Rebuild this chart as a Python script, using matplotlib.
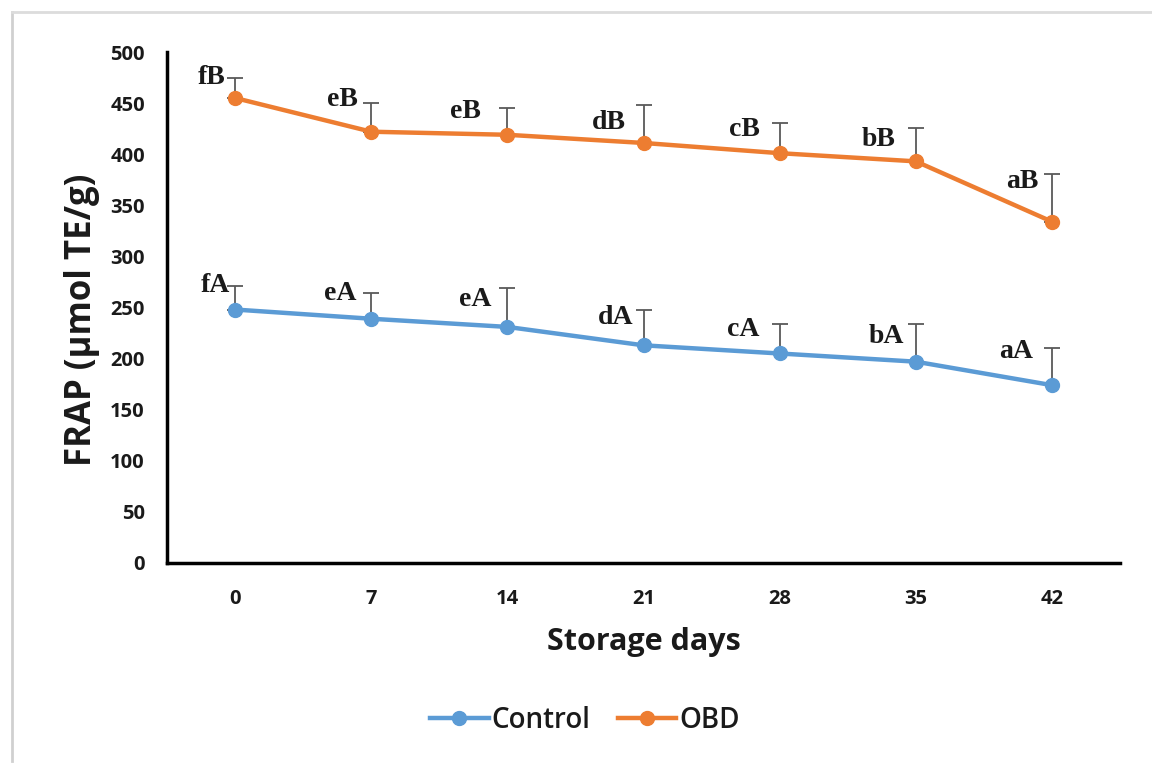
import matplotlib

matplotlib.use("Agg")

import matplotlib.pyplot as plt
from matplotlib.lines import Line2D
import numpy as np

# data
days = ["0", "7", "14", "21", "28", "35", "42"]
control = [248, 239, 231, 213, 205, 197, 174]
control_err = [23, 25, 38, 35, 29, 37, 36]
obd = [455, 422, 419, 411, 401, 393, 334]
obd_err = [20, 28, 26, 37, 30, 33, 47]
control_letters = ["fA", "eA", "eA", "dA", "cA", "bA", "aA"]
obd_letters = ["fB", "eB", "eB", "dB", "cB", "bB", "aB"]

# label offsets in points (text centre relative to the data point)
control_off = [(-14, 17), (-22, 18), (-23, 20), (-20, 20), (-26, 17), (-21, 18), (-26, 24)]
obd_off = [(-17, 15), (-21, 23), (-30, 17), (-25, 15), (-25, 17), (-27, 16), (-21, 29)]

BLUE = "#5B9BD5"
ORANGE = "#ED7D31"
ERR = "#595959"
TXT = "#1a1a1a"

fig = plt.figure(figsize=(11.52, 7.69), dpi=100)
ax = fig.add_axes([167 / 1152, 1 - 563 / 769, (1120 - 167) / 1152, (563 - 52) / 769])

# screenshot frame (left and top edges)
fig.add_artist(Line2D([12 / 1152, 12 / 1152], [1 - 12 / 769, 0.01],
                      transform=fig.transFigure, color="#d0d0d0", lw=2))
fig.add_artist(Line2D([12 / 1152, 1.0], [1 - 12 / 769, 1 - 12 / 769],
                      transform=fig.transFigure, color="#dcdcdc", lw=2))

x = np.arange(len(days))
for vals, err, col, letters, offs, name in [
        (control, control_err, BLUE, control_letters, control_off, "Control"),
        (obd, obd_err, ORANGE, obd_letters, obd_off, "OBD")]:
    ax.errorbar(x, vals, yerr=[np.zeros(len(err)), err], fmt="none",
                ecolor=ERR, elinewidth=1.3, capsize=6, capthick=1.3, zorder=2)
    ax.plot(x, vals, color=col, lw=3.2, marker="o", ms=10, label=name, zorder=3)
    for xi, v, lab, off in zip(x, vals, letters, offs):
        ax.annotate(lab, (xi, v), xytext=off, textcoords="offset points",
                    ha="center", va="center", fontsize=20, fontweight="bold",
                    family="Liberation Serif", color=TXT)

ax.set_xlim(-0.5, len(days) - 0.5)
ax.set_ylim(0, 500)
ax.set_yticks(np.arange(0, 501, 50))
ax.set_xticks(x)
ax.set_xticklabels(days)
for s in ["top", "right"]:
    ax.spines[s].set_visible(False)
for s in ["left", "bottom"]:
    ax.spines[s].set_linewidth(2.5)
    ax.spines[s].set_color("black")
ax.tick_params(axis="y", length=0, pad=16)
ax.tick_params(axis="x", length=0, pad=19)
for t in ax.get_xticklabels() + ax.get_yticklabels():
    t.set_family("Open Sans")
    t.set_fontweight("bold")
    t.set_fontsize(14.5)
    t.set_color(TXT)

fig.text(82 / 1152, 1 - 320 / 769, "FRAP (µmol TE/g)", rotation=90,
         ha="center", va="center", fontsize=25, fontweight="bold",
         family="Open Sans", color=TXT)
fig.text(644 / 1152, 1 - 642 / 769, "Storage days", ha="center", va="center",
         fontsize=22, fontweight="bold", family="Open Sans", color=TXT)

leg = fig.legend(loc="center", bbox_to_anchor=(585 / 1152, 1 - 720 / 769),
                 ncol=2, frameon=False, handlelength=2.1, handletextpad=0.1,
                 columnspacing=1.0,
                 prop={"family": "Open Sans", "size": 20, "weight": "semibold"})
for t in leg.get_texts():
    t.set_color(TXT)

fig.savefig("out.png", dpi=100)
